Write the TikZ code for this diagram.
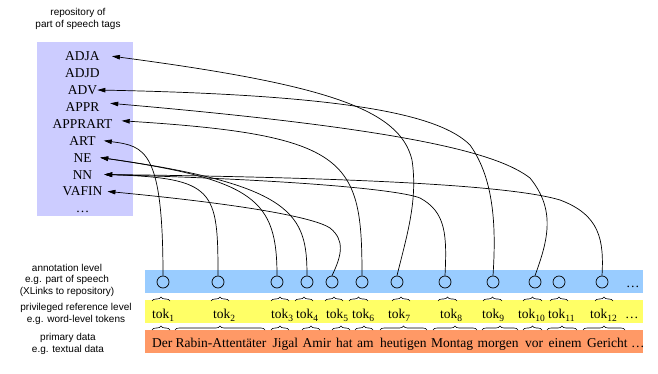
\documentclass[tikz,border=0pt]{standalone}
\usepackage{fontspec}
\setmainfont{Liberation Serif}
\setsansfont{Liberation Sans}
\usetikzlibrary{arrows.meta,decorations.pathreplacing}
\definecolor{repo}{HTML}{CCCCFF}
\definecolor{annot}{HTML}{99CCFF}
\definecolor{tokband}{HTML}{FFFF66}
\definecolor{prim}{HTML}{FF9966}
\newcommand\tk[1]{tok\raisebox{-0.28em}{\fontsize{9.5}{9.5}\selectfont #1}}
\begin{document}
\begin{tikzpicture}[x=1pt,y=-1pt,
  tag/.style={font=\fontsize{13.5}{14}\selectfont, inner sep=0pt, text height=9pt, text depth=0pt, anchor=base},
  wrd/.style={font=\fontsize{13.5}{14}\selectfont, inner sep=0pt, anchor=base west},
  lab/.style={font=\sffamily\fontsize{10}{11.5}\selectfont, align=center, inner sep=0pt},
  circ/.style={circle, draw, line width=0.7pt, minimum size=12pt, inner sep=0pt},
  conn/.style={line width=0.7pt, -{Triangle[length=8pt,width=4.5pt]}},
  brc/.style={decorate, decoration={brace, amplitude=4pt}, line width=0.6pt}]
\useasboundingbox (0,0) rectangle (658,374);
% backgrounds
\fill[repo] (37,42) rectangle (133,216);
\fill[annot] (145,270) rectangle (643,293);
\fill[tokband] (145,300) rectangle (643,323);
\fill[prim] (145,330) rectangle (643,353);
% labels
\node[lab] (lrepo) at (78,19) {repository of\\part of speech tags};
\node[lab] (lann) at (67,280) {annotation level\\e.g. part of speech\\(XLinks to repository)};
\node[lab] (lref) at (76,314) {privileged reference level\\e.g. word-level tokens};
\node[lab] (lprim) at (68,344) {primary data\\e.g. textual data};
% tags
\node[tag] (ADJA) at (82.5,60.7) {ADJA};
\node[tag] (ADJD) at (82.5,77.6) {ADJD};
\node[tag] (ADV) at (82.5,94.5) {ADV};
\node[tag] (APPR) at (82.5,111.4) {APPR};
\node[tag] (APPRART) at (82.5,128.3) {APPRART};
\node[tag] (ART) at (82.5,145.2) {ART};
\node[tag] (NE) at (82.5,162.1) {NE};
\node[tag] (NN) at (82.5,179) {NN};
\node[tag] (VAFIN) at (82.5,195.9) {VAFIN};
\node[tag] (tdots) at (82.5,212) {\dots};
% annotation circles
\foreach \i/\x in {1/163,2/218,3/277,4/307,5/332,6/362,7/397,8/445,9/493,10/535,11/559,12/602}
  \node[circ] (c\i) at (\x,282) {};
\node[wrd] (adots) at (626,287) {\dots};
% tokens
\node[wrd] (t1) at (152,318) {\tk{1}};
\node[wrd] (t2) at (213,318) {\tk{2}};
\node[wrd] (t3) at (271,318) {\tk{3}};
\node[wrd] (t4) at (296,318) {\tk{4}};
\node[wrd] (t5) at (326,318) {\tk{5}};
\node[wrd] (t6) at (352,318) {\tk{6}};
\node[wrd] (t7) at (388,318) {\tk{7}};
\node[wrd] (t8) at (440,318) {\tk{8}};
\node[wrd] (t9) at (482,318) {\tk{9}};
\node[wrd] (t10) at (518,318) {\tk{10}};
\node[wrd] (t11) at (548,318) {\tk{11}};
\node[wrd] (t12) at (590,318) {\tk{12}};
\node[wrd] (tkdots) at (625,318) {\dots};
% primary data words
\node[wrd] (w1) at (152,347) {Der};
\node[wrd] (w2) at (175.5,347) {Rabin-Attentäter};
\node[wrd] (w3) at (272.5,347) {Jigal};
\node[wrd] (w4) at (302.5,347) {Amir};
\node[wrd] (w5) at (336,347) {hat};
\node[wrd] (w6) at (357,347) {am};
\node[wrd] (w7) at (380,347) {heutigen};
\node[wrd] (w8) at (431,347) {Montag};
\node[wrd] (w9) at (477.5,347) {morgen};
\node[wrd] (w10) at (525,347) {vor};
\node[wrd] (w11) at (548.5,347) {einem};
\node[wrd] (w12) at (587,347) {Gericht \dots};
% braces over tokens
\foreach \a/\b in {152/170,211/229,271/289,295/313,325/343,349/368,392/410,438/457,483/502,523/542,550/568,595/613}
  \draw[brc] (\a,301) -- (\b,301);
% braces over words
\foreach \a/\b in {152/170,175/265,271/289,302/320,332/350,355/373,380/427,433/477,482/518,523/542,547/577,583/625}
  \draw[brc] (\a,330) -- (\b,330);
% connectors
\draw[conn] (c1.north) .. controls (163,150) and (145,146) .. ([xshift=8pt]ART.east);
\draw[conn] (c2.north) .. controls (218,190) and (215,178) .. ([xshift=11.75pt]NN.east);
\draw[conn] (c3.north) .. controls (277,200) and (255,180) .. ([xshift=8.5pt]NE.east);
\draw[conn] (c4.north) .. controls (307,215) and (295,185) .. ([xshift=8.5pt]NE.east);
\draw[conn] (c5.north) .. controls (342,255) and (345,240) .. (330,228)
   .. controls (315,218) and (250,205) .. ([xshift=5pt]VAFIN.east);
\draw[conn] (c6.north) .. controls (362,160) and (350,135) .. ([xshift=9pt,yshift=3pt]APPRART.east);
\draw[conn] (c7.north) .. controls (407,235) and (418,200) .. (412,160)
   .. controls (400,110) and (330,85) .. ([xshift=12pt]ADJA.east);
\draw[conn] (c8.north) .. controls (447,235) and (446,212) .. (420,198)
   .. controls (400,190) and (300,180) .. ([xshift=11.75pt]NN.east);
\draw[conn] (c9.north) .. controls (496,230) and (495,180) .. (470,145)
   .. controls (440,115) and (350,95) .. (ADV.east);
\draw[conn] (c10.north) .. controls (548,240) and (556,210) .. (530,178)
   .. controls (500,155) and (420,130) .. ([xshift=10.6pt,yshift=3.6pt]APPR.east);
\draw[conn] (c12.north) .. controls (604,240) and (600,215) .. (560,200)
   .. controls (520,188) and (400,178) .. ([xshift=11.75pt]NN.east);
\end{tikzpicture}
\end{document}
